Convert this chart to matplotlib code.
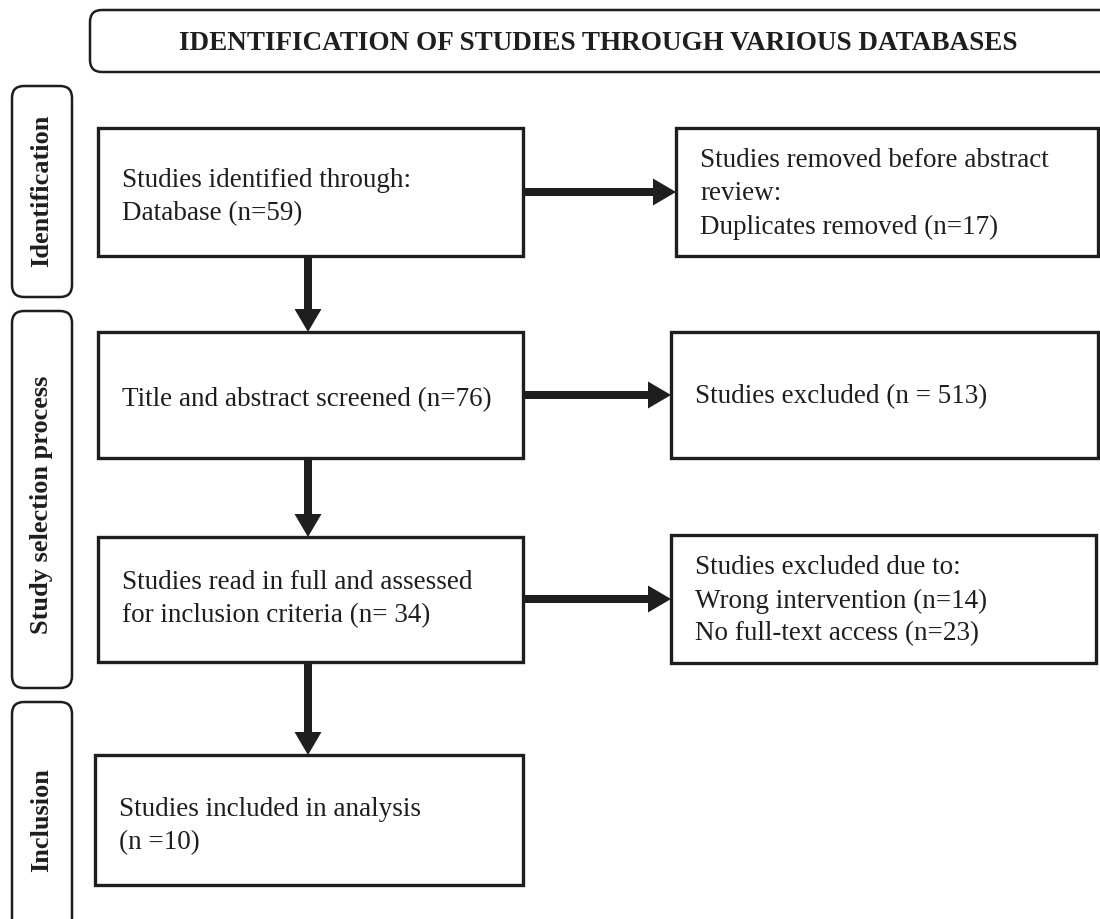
import matplotlib.pyplot as plt
from matplotlib.patches import FancyBboxPatch, Rectangle

# ---------------------------------------------------------------- content
TITLE = "IDENTIFICATION OF STUDIES THROUGH VARIOUS DATABASES"
STAGES = ["Identification", "Study selection process", "Inclusion"]
MAIN_TEXT = [
    "Studies identified through:\nDatabase (n=59)",
    "Title and abstract screened (n=76)",
    "Studies read in full and assessed\nfor inclusion criteria (n= 34)",
    "Studies included in analysis\n(n =10)",
]
SIDE_TEXT = [
    "Studies removed before abstract\nreview:\nDuplicates removed (n=17)",
    "Studies excluded (n = 513)",
    "Studies excluded due to:\nWrong intervention (n=14)\nNo full-text access (n=23)",
]

# ---------------------------------------------------------------- layout (pixels)
W, H = 1100, 919
main_boxes = [(98, 128, 425, 128), (98, 332, 425, 126),
              (98, 537, 425, 125), (95, 755, 428, 130)]
side_boxes = [(676, 128, 422, 128), (671, 332, 427, 126), (671, 535, 425, 128)]
stage_boxes = [(12, 86, 60, 211), (12, 311, 60, 377), (12, 702, 60, 240)]
stage_centres = [191, 505, 820]

SERIF = ["Liberation Serif", "DejaVu Serif"]
INK = "#1e1e1e"
FS = 19.5

fig = plt.figure(figsize=(W / 100, H / 100), dpi=100)
ax = fig.add_axes([0, 0, 1, 1])
ax.set_xlim(0, W)
ax.set_ylim(H, 0)
ax.axis("off")

# title banner (runs off the right edge)
ax.add_patch(FancyBboxPatch((90, 10), 1040, 62, boxstyle="round,pad=0,rounding_size=12",
                            fill=False, lw=1.8, ec=INK))
ax.text(598, 43, TITLE, ha="center", va="center", fontsize=19.5, fontweight="bold",
        family=SERIF, color=INK)

# stage labels on the left
for (x, y, w, h), cy, lab in zip(stage_boxes, stage_centres, STAGES):
    ax.add_patch(FancyBboxPatch((x, y), w, h, boxstyle="round,pad=0,rounding_size=12",
                                fill=False, lw=1.8, ec=INK))
    ax.text(x + w / 2, cy, lab, rotation=90, ha="center", va="center",
            fontsize=19, fontweight="bold", family=SERIF, color=INK)


def box(rect, txt, pad, dy=3):
    x, y, w, h = rect
    ax.add_patch(Rectangle((x, y), w, h, fill=False, lw=2.4, ec=INK, joinstyle="miter"))
    ax.text(x + pad, y + h / 2 + dy, txt, ha="left", va="center", fontsize=FS,
            family=SERIF, color=INK, linespacing=1.42)


for r, t, d in zip(main_boxes, MAIN_TEXT, [5, 5, 0, 6]):
    box(r, t, 24, d)
for r, t in zip(side_boxes, SIDE_TEXT):
    box(r, t, 24, 2)

arr = dict(width=8, head_width=27, head_length=23, length_includes_head=True,
           fc=INK, ec=INK, lw=0)

# downward arrows between main boxes
xc = 308
for a, b in zip(main_boxes[:-1], main_boxes[1:]):
    y0 = a[1] + a[3]
    ax.arrow(xc, y0, 0, b[1] - y0, **arr)

# side arrows
for a, b in zip(main_boxes, side_boxes):
    ym = b[1] + b[3] / 2
    x0 = a[0] + a[2]
    ax.arrow(x0, ym, b[0] - x0, 0, **arr)

fig.savefig("out.png", dpi=100, facecolor="white")
